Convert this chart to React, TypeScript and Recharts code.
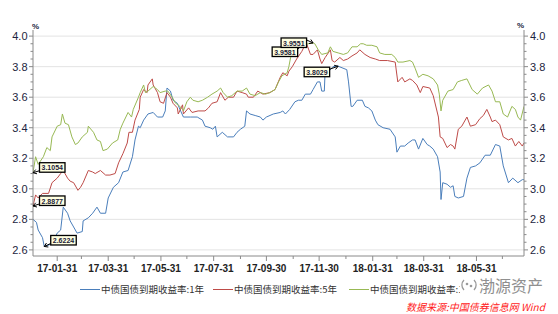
import React from 'react';
import { LineChart, Line, XAxis, YAxis, CartesianGrid, ReferenceDot } from 'recharts';

// x = days since 2017-01-01, y = yield (%)
const y1Points: [number, number][] = [
  [2, 2.80], [6, 2.78], [8, 2.73], [13, 2.68], [15, 2.6224], [20, 2.63], [25, 2.65], [30, 2.71], [34, 2.73],
  [37, 2.88], [42, 2.84], [45, 2.79], [49, 2.75], [53, 2.71], [59, 2.72], [60, 2.79], [66, 2.81], [71, 2.84],
  [76, 2.88], [80, 2.84], [86, 2.84], [89, 2.94], [95, 3.01], [101, 3.04], [106, 3.11], [112, 3.12], [117, 3.21],
  [120, 3.32], [124, 3.41], [126, 3.40], [130, 3.45], [135, 3.49], [141, 3.50], [146, 3.47], [152, 3.47],
  [155, 3.51], [157, 3.66], [161, 3.64], [164, 3.58], [169, 3.56], [172, 3.52], [176, 3.47], [184, 3.47],
  [192, 3.47], [198, 3.45], [201, 3.41], [207, 3.40], [210, 3.39], [213, 3.41], [215, 3.34], [221, 3.37],
  [227, 3.34], [234, 3.34], [238, 3.37], [242, 3.39], [247, 3.41], [249, 3.51], [253, 3.49], [259, 3.48],
  [265, 3.47], [268, 3.45], [272, 3.47], [280, 3.49], [288, 3.50], [291, 3.51], [294, 3.49], [299, 3.52],
  [305, 3.57], [309, 3.58], [313, 3.58], [317, 3.62], [323, 3.62], [326, 3.65], [331, 3.70], [334, 3.70],
  [336, 3.64], [339, 3.64], [340, 3.78], [346, 3.78], [349, 3.80], [355, 3.8029], [365, 3.78], [367, 3.70],
  [370, 3.54], [372, 3.54], [377, 3.58], [383, 3.58], [386, 3.54], [390, 3.53], [394, 3.51], [398, 3.45],
  [401, 3.42], [407, 3.40], [415, 3.39], [421, 3.34], [423, 3.24], [427, 3.28], [432, 3.28], [436, 3.30],
  [441, 3.32], [444, 3.32], [448, 3.26], [453, 3.33], [458, 3.29], [461, 3.28], [465, 3.26], [470, 3.21],
  [473, 3.11], [474, 2.93], [476, 3.04], [481, 3.03], [485, 3.01], [488, 3.02], [490, 2.95], [494, 2.94],
  [500, 2.95], [504, 3.07], [508, 3.14], [514, 3.15], [519, 3.17], [525, 3.22], [531, 3.22], [537, 3.29],
  [542, 3.28], [546, 3.15], [552, 3.04], [557, 3.07], [563, 3.04], [568, 3.06], [570, 3.06],
];

const y5Points: [number, number][] = [
  [2, 2.8877], [5, 2.96], [8, 2.94], [13, 2.97], [20, 2.97], [24, 3.04], [30, 3.07], [34, 3.10], [37, 3.12],
  [42, 3.07], [45, 3.05], [49, 3.04], [54, 2.99], [57, 3.01], [60, 3.04], [66, 3.12], [71, 3.11], [74, 3.10],
  [80, 3.12], [86, 3.09], [91, 3.09], [97, 3.10], [101, 3.17], [106, 3.23], [111, 3.30], [113, 3.37],
  [117, 3.37], [120, 3.45], [125, 3.52], [126, 3.60], [130, 3.65], [134, 3.63], [135, 3.68], [140, 3.72],
  [141, 3.68], [146, 3.63], [149, 3.57], [153, 3.56], [157, 3.63], [161, 3.60], [164, 3.56], [169, 3.53],
  [170, 3.49], [175, 3.55], [176, 3.49], [182, 3.53], [186, 3.50], [193, 3.51], [201, 3.51], [205, 3.53],
  [209, 3.56], [215, 3.57], [219, 3.63], [224, 3.58], [228, 3.60], [234, 3.60], [238, 3.64], [244, 3.63],
  [249, 3.62], [251, 3.60], [257, 3.60], [262, 3.64], [268, 3.62], [276, 3.63], [282, 3.65], [288, 3.73],
  [291, 3.76], [296, 3.74], [298, 3.77], [302, 3.80], [307, 3.85], [313, 3.90], [318, 3.9581], [323, 3.88],
  [326, 3.88], [331, 3.91], [334, 3.85], [336, 3.82], [340, 3.86], [346, 3.91], [348, 3.84], [351, 3.83],
  [357, 3.86], [361, 3.84], [366, 3.85], [371, 3.87], [377, 3.89], [380, 3.91], [386, 3.88], [392, 3.86],
  [398, 3.85], [403, 3.84], [412, 3.84], [421, 3.83], [424, 3.70], [429, 3.73], [432, 3.70], [438, 3.72],
  [441, 3.71], [446, 3.68], [450, 3.63], [453, 3.67], [461, 3.66], [465, 3.61], [471, 3.47], [473, 3.34],
  [476, 3.33], [481, 3.27], [485, 3.29], [488, 3.28], [490, 3.26], [494, 3.39], [498, 3.41], [504, 3.47],
  [508, 3.41], [514, 3.42], [519, 3.46], [523, 3.48], [527, 3.52], [531, 3.47], [533, 3.44], [537, 3.45],
  [542, 3.42], [546, 3.34], [552, 3.32], [556, 3.33], [560, 3.28], [564, 3.31], [568, 3.28], [570, 3.30],
];

const y10Points: [number, number][] = [
  [2, 3.1054], [5, 3.21], [8, 3.16], [14, 3.21], [18, 3.27], [22, 3.25], [24, 3.34], [30, 3.41], [34, 3.42],
  [36, 3.49], [39, 3.43], [43, 3.42], [47, 3.34], [51, 3.29], [54, 3.30], [59, 3.34], [65, 3.37], [66, 3.41],
  [72, 3.37], [76, 3.32], [80, 3.31], [83, 3.25], [88, 3.26], [94, 3.30], [100, 3.32], [103, 3.39],
  [106, 3.43], [112, 3.50], [116, 3.47], [118, 3.52], [124, 3.60], [126, 3.63], [130, 3.68], [132, 3.63],
  [135, 3.64], [141, 3.67], [146, 3.65], [149, 3.63], [155, 3.64], [158, 3.64], [163, 3.60], [167, 3.56],
  [170, 3.55], [175, 3.52], [176, 3.51], [180, 3.57], [184, 3.60], [187, 3.58], [193, 3.57], [198, 3.58],
  [204, 3.60], [209, 3.62], [215, 3.64], [219, 3.66], [222, 3.63], [227, 3.60], [232, 3.61], [238, 3.64],
  [244, 3.64], [249, 3.66], [253, 3.62], [259, 3.61], [265, 3.63], [271, 3.62], [276, 3.63], [282, 3.65],
  [286, 3.70], [290, 3.74], [296, 3.76], [298, 3.80], [300, 3.86], [305, 3.90], [311, 3.93], [316, 3.94],
  [320, 3.95], [326, 3.9551], [328, 3.95], [332, 3.91], [336, 3.88], [343, 3.89], [346, 3.93], [349, 3.90],
  [355, 3.89], [361, 3.88], [366, 3.89], [371, 3.93], [377, 3.93], [381, 3.95], [384, 3.95], [388, 3.94],
  [394, 3.94], [400, 3.93], [403, 3.89], [409, 3.88], [417, 3.88], [421, 3.86], [424, 3.83], [430, 3.83],
  [438, 3.84], [441, 3.83], [444, 3.79], [448, 3.73], [453, 3.75], [459, 3.74], [465, 3.72], [470, 3.68],
  [472, 3.62], [474, 3.51], [476, 3.58], [482, 3.64], [488, 3.65], [493, 3.70], [498, 3.71], [504, 3.72],
  [510, 3.65], [516, 3.62], [522, 3.66], [529, 3.68], [533, 3.64], [537, 3.57], [542, 3.57], [546, 3.49],
  [551, 3.47], [556, 3.54], [560, 3.52], [563, 3.47], [566, 3.45], [570, 3.54],
];

const monthEndDays = [30, 58, 89, 119, 150, 180, 211, 242, 272, 303, 333, 364, 395, 423, 454, 484, 515, 545];
const labeledDays = [30, 89, 150, 211, 272, 333, 395, 454, 515];
const xTickLabels = ['17-01-31', '17-03-31', '17-05-31', '17-07-31', '17-09-30', '17-11-30', '18-01-31', '18-03-31', '18-05-31'];

const yTicks = [
  2.6, 2.65, 2.7, 2.75, 2.8, 2.85, 2.9, 2.95, 3.0, 3.05, 3.1, 3.15, 3.2, 3.25, 3.3, 3.35, 3.4, 3.45,
  3.5, 3.55, 3.6, 3.65, 3.7, 3.75, 3.8, 3.85, 3.9, 3.95, 4.0,
];
const yLabels = [2.6, 2.8, 3.0, 3.2, 3.4, 3.6, 3.8, 4.0];

const seriesNames = ['中债国债到期收益率:1年', '中债国债到期收益率:5年', '中债国债到期收益率:10年'];
const seriesColors = ['#4A7EBB', '#BE4B48', '#98B954'];

// annotated points: [series index, day, value, text]
const callouts: [number, number, number, string][] = [
  [2, 2, 3.1054, '3.1054'],
  [1, 2, 2.8877, '2.8877'],
  [0, 15, 2.6224, '2.6224'],
  [1, 318, 3.9581, '3.9581'],
  [2, 326, 3.9551, '3.9551'],
  [0, 355, 3.8029, '3.8029'],
];
// box offsets relative to the point (style)
const calloutStyle = [
  { dx: 6.5, dy: -10, ax: 'left' },
  { dx: 6.5, dy: -10, ax: 'left' },
  { dx: 6.5, dy: -11, ax: 'left' },
  { dx: -34, dy: 4.5, ax: 'right' },
  { dx: -32, dy: -5, ax: 'right' },
  { dx: -34, dy: 1, ax: 'right' },
];

const toData = (pts: [number, number][]) => pts.map(([day, v]) => ({ day, v }));
const seriesData = [toData(y1Points), toData(y5Points), toData(y10Points)];

const axisColor = '#8a8a8a';
const labelColor = '#1c2540';
const FONT = '"Liberation Sans", Arial, sans-serif';
const CJK = '"Noto Sans CJK SC", sans-serif';

const isLabeled = (v: number) => yLabels.some((l) => Math.abs(l - v) < 1e-6);

const LeftTick = (props: any) => {
  const { x, y, payload } = props;
  const v = payload.value as number;
  const major = isLabeled(v);
  return (
    <g>
      <line x1={x - (major ? 4 : 2.5)} x2={x} y1={y} y2={y} stroke={axisColor} />
      {major && (
        <text x={x - 5.5} y={y} textAnchor="end" dominantBaseline="central" fontSize={11} fontFamily={FONT} fill={labelColor}>
          {v.toFixed(1)}
        </text>
      )}
    </g>
  );
};

const RightTick = (props: any) => {
  const { x, y, payload } = props;
  const v = payload.value as number;
  const major = isLabeled(v);
  return (
    <g>
      <line x1={x} x2={x + (major ? 4 : 2.5)} y1={y} y2={y} stroke={axisColor} />
      {major && (
        <text x={x + 6} y={y} textAnchor="start" dominantBaseline="central" fontSize={11} fontFamily={FONT} fill={labelColor}>
          {v.toFixed(1)}
        </text>
      )}
    </g>
  );
};

const BottomTick = (props: any) => {
  const { x, y, payload } = props;
  const idx = labeledDays.indexOf(payload.value);
  const major = idx >= 0;
  return (
    <g>
      <line x1={x} x2={x} y1={y} y2={y + (major ? 5 : 3)} stroke={axisColor} />
      {major && (
        <text x={x} y={y + 16} textAnchor="middle" fontSize={10} fontWeight="bold" fontFamily={FONT} fill="#222">
          {xTickLabels[idx]}
        </text>
      )}
    </g>
  );
};

const Callout = ({ cx, cy, text, dx, dy, side }: any) => {
  const w = 25.5;
  const h = 9.5;
  const bx = cx + dx;
  const by = cy + dy;
  const sx = side === 'left' ? bx : bx + w;
  const sy = side === 'left' ? by + h - 1.5 : by + 2;
  const ang = Math.atan2(cy - sy, cx - sx);
  const L = 3.5;
  const W = 2.2;
  const p1x = cx - L * Math.cos(ang) + W * Math.sin(ang);
  const p1y = cy - L * Math.sin(ang) - W * Math.cos(ang);
  const p2x = cx - L * Math.cos(ang) - W * Math.sin(ang);
  const p2y = cy - L * Math.sin(ang) + W * Math.cos(ang);
  return (
    <g>
      <line x1={sx} y1={sy} x2={cx} y2={cy} stroke="#000" strokeWidth={1} />
      <polyline points={`${p1x},${p1y} ${cx},${cy} ${p2x},${p2y}`} fill="none" stroke="#000" strokeWidth={1} />
      <rect x={bx} y={by} width={w} height={h} fill="#FFFFE1" stroke="#000" strokeWidth={1.3} />
      <text x={bx + w / 2} y={by + h / 2 + 0.3} textAnchor="middle" dominantBaseline="central" fontSize={7} fontWeight="bold" fontFamily={FONT} fill="#1a1a3a">
        {text}
      </text>
    </g>
  );
};

export default function App() {
  return (
    <div style={{ position: 'absolute', left: 0, top: 0, width: 558, height: 314, background: '#fff', overflow: 'hidden' }}>
      <LineChart width={558} height={314} margin={{ top: 30, right: 0, bottom: 0, left: 0 }}>
        <CartesianGrid yAxisId="l" vertical={false} horizontalValues={yLabels} stroke="#e3e3e3" />
        <XAxis
          dataKey="day"
          type="number"
          domain={[2, 570]}
          ticks={monthEndDays}
          interval={0}
          tickSize={0}
          tickMargin={0}
          tickLine={false}
          tick={<BottomTick />}
          axisLine={{ stroke: axisColor }}
          height={58}
          allowDataOverflow
        />
        <YAxis
          yAxisId="l"
          type="number"
          domain={[2.56, 4.04]}
          ticks={yTicks}
          interval={0}
          tickSize={0}
          tickMargin={0}
          tickLine={false}
          tick={<LeftTick />}
          axisLine={{ stroke: axisColor }}
          width={33}
          allowDataOverflow
        />
        <YAxis
          yAxisId="r"
          orientation="right"
          type="number"
          domain={[2.56, 4.04]}
          ticks={yTicks}
          interval={0}
          tickSize={0}
          tickMargin={0}
          tickLine={false}
          tick={<RightTick />}
          axisLine={{ stroke: axisColor }}
          width={34}
          allowDataOverflow
        />
        {seriesData.map((d, i) => (
          <Line
            key={i}
            data={d}
            dataKey="v"
            yAxisId={i === 2 ? 'r' : 'l'}
            type="linear"
            stroke={seriesColors[i]}
            strokeWidth={1}
            dot={false}
            activeDot={false}
            isAnimationActive={false}
            name={seriesNames[i]}
          />
        ))}
        {callouts.map(([s, day, v, text], i) => (
          <ReferenceDot
            key={'c' + i}
            x={day}
            y={v}
            yAxisId={s === 2 ? 'r' : 'l'}
            r={0}
            ifOverflow="visible"
            shape={(p: any) => (
              <Callout cx={p.cx} cy={p.cy} text={text} dx={calloutStyle[i].dx} dy={calloutStyle[i].dy} side={calloutStyle[i].ax} />
            )}
          />
        ))}
      </LineChart>

      <div style={{ position: 'absolute', left: 32, top: 22, fontSize: 8, fontWeight: 'bold', fontFamily: FONT, color: '#1c2540' }}>%</div>
      <div style={{ position: 'absolute', left: 517, top: 21, fontSize: 8, fontWeight: 'bold', fontFamily: FONT, color: '#1c2540' }}>%</div>

      {seriesNames.map((n, i) => {
        const left = [80, 213, 349][i];
        return (
          <div key={'lg' + i} style={{ position: 'absolute', left, top: 282, height: 14, display: 'flex', alignItems: 'center', whiteSpace: 'nowrap' }}>
            <span style={{ display: 'inline-block', width: 20, height: 1, background: seriesColors[i], marginRight: 1 }} />
            <span style={{ fontSize: 9.5, fontFamily: CJK, color: '#333', lineHeight: '14px' }}>{n}</span>
          </div>
        );
      })}

      <div style={{ position: 'absolute', left: 460, top: 274, width: 98, height: 22, background: '#fff', display: 'flex', alignItems: 'center' }}>
        <svg width={18} height={18} style={{ marginRight: 1 }}>
          <path d="M4 4 A7 7 0 0 0 4 14" fill="none" stroke="#9a9a9a" strokeWidth={1.3} />
          <path d="M14 4 A7 7 0 0 1 14 14" fill="none" stroke="#9a9a9a" strokeWidth={1.3} />
          <circle cx={7} cy={8} r={1.3} fill="#9a9a9a" />
          <circle cx={11} cy={10} r={1.3} fill="#9a9a9a" />
        </svg>
        <span style={{ fontSize: 16, fontFamily: CJK, color: '#8f8f8f', lineHeight: '22px' }}>渤源资产</span>
      </div>

      <div style={{ position: 'absolute', left: 406, top: 300, fontSize: 10, fontStyle: 'italic', fontFamily: CJK, color: '#ff1a1a', whiteSpace: 'nowrap', lineHeight: '14px' }}>
        数据来源:中国债券信息网 Wind
      </div>
    </div>
  );
}
